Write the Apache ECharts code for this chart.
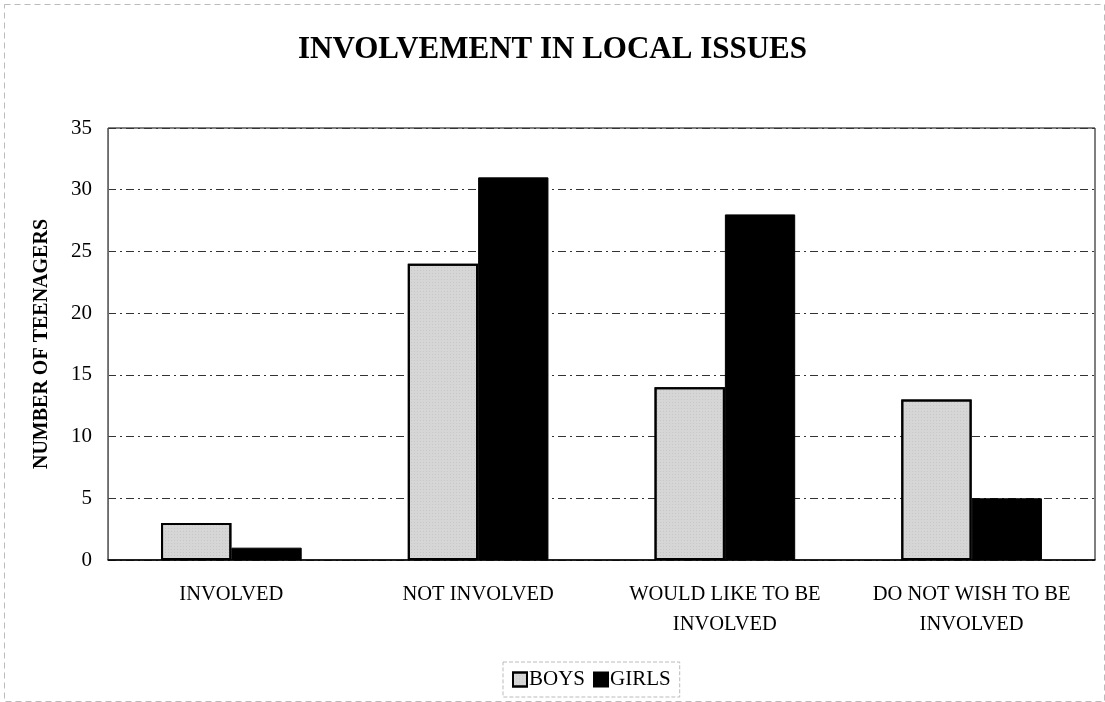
<!DOCTYPE html>
<html><head><meta charset="utf-8">
<script src="https://cdn.jsdelivr.net/npm/echarts@6/dist/echarts.min.js"></script>
<style>html,body{margin:0;padding:0;background:#fff}#c{width:1105px;height:702px}</style>
</head><body><div id="c"></div>
<script>
var categories = ['INVOLVED', 'NOT INVOLVED', 'WOULD LIKE TO BE\nINVOLVED', 'DO NOT WISH TO BE\nINVOLVED'];
var boys = [3, 24, 14, 13];
var girls = [1, 31, 28, 5];
var yTicks = {min: 0, max: 35, interval: 5};
var font = '"Liberation Serif", "DejaVu Serif", serif';
var chart = echarts.init(document.getElementById('c'));
chart.setOption({
  backgroundColor: '#fff',
  animation: false,
  title: {text: 'INVOLVEMENT IN LOCAL ISSUES', left: 'center', top: 29,
    textStyle: {fontFamily: font, fontSize: 31, fontWeight: 'bold', color: '#000'}},
  legend: {bottom: 5, left: 503, itemWidth: 14, itemHeight: 14, itemGap: 8, icon: 'rect',
    borderColor: '#bbb', borderType: 'dashed', borderWidth: 1, padding: [7, 9],
    textStyle: {fontFamily: font, fontSize: 21, color: '#000', padding: [0, 0, 0, -3]},
    data: ['BOYS', 'GIRLS']},
  grid: {left: 108, right: 10, top: 128, bottom: 142, show: true, borderColor: '#000', borderWidth: 1},
  xAxis: {type: 'category', data: categories,
    axisLine: {lineStyle: {color: '#000', width: 1.5}}, axisTick: {show: false},
    axisLabel: {interval: 0, hideOverlap: false, fontFamily: font, fontSize: 20.5, color: '#000', margin: 20, lineHeight: 30}},
  yAxis: {type: 'value', min: yTicks.min, max: yTicks.max, interval: yTicks.interval,
    name: 'NUMBER OF TEENAGERS', nameLocation: 'middle', nameGap: 56, nameRotate: 90,
    nameTextStyle: {fontFamily: font, fontSize: 20, fontWeight: 'bold', color: '#000'},
    axisLine: {show: true, lineStyle: {color: '#666', type: 'dotted'}}, axisTick: {show: false},
    axisLabel: {fontFamily: font, fontSize: 21, color: '#000', margin: 16},
    splitLine: {lineStyle: {color: '#333', type: [8, 4, 2, 4], width: 1}}},
  series: [
    {name: 'BOYS', type: 'bar', data: boys, barGap: '0%', barCategoryGap: '43%',
      itemStyle: {color: '#d6d6d6', borderColor: '#000', borderWidth: 2,
        decal: {symbol: 'rect', symbolSize: 0.5, color: 'rgba(90,90,90,0.45)', dashArrayX: [1, 2], dashArrayY: [1, 2], rotation: 0}}},
    {name: 'GIRLS', type: 'bar', data: girls, barGap: '0%', barCategoryGap: '43%',
      itemStyle: {color: '#000', borderColor: '#000', borderWidth: 1}}
  ],
  graphic: [{type: 'rect', left: 2, top: 2, shape: {width: 1100, height: 697},
    style: {fill: 'none', stroke: '#bbb', lineDash: [6, 4], lineWidth: 1}, silent: true}]
});
</script></body></html>
